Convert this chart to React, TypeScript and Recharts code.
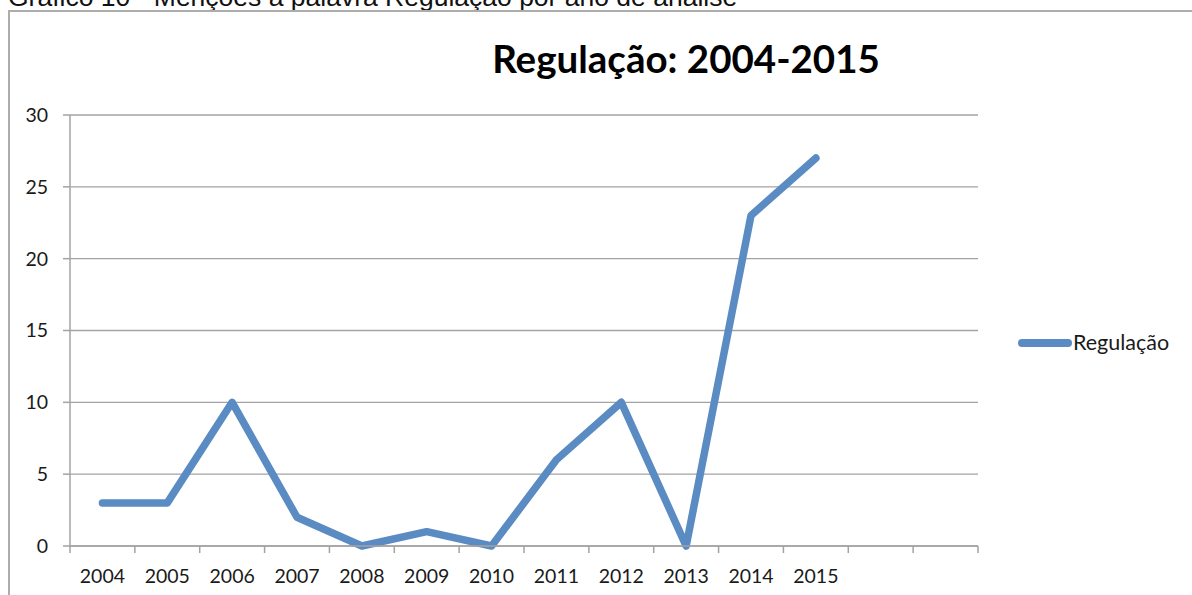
import React from 'react';
import { LineChart, Line, XAxis, YAxis, CartesianGrid, Legend } from 'recharts';

const years = ['2004', '2005', '2006', '2007', '2008', '2009', '2010', '2011', '2012', '2013', '2014', '2015', '', ''];
const regulacao = [3, 3, 10, 2, 0, 1, 0, 6, 10, 0, 23, 27];
const yTicks = [0, 5, 10, 15, 20, 25, 30];
const xTicks = [0, 1, 2, 3, 4, 5, 6, 7, 8, 9, 10, 11, 12, 13, 14];

const data = regulacao.map((v, i) => ({ x: i + 0.5, 'Regulação': v }));

const W = 1192;
const H = 595;
const PLOT_LEFT = 70;
const PLOT_RIGHT = 978;
const BAND = (PLOT_RIGHT - PLOT_LEFT) / years.length;
const LINE_COLOR = '#5a8bc2';
const AXIS_COLOR = '#a3a3a3';
const FONT = 'Lato, "Open Sans", sans-serif';

const XTick = (props: any) => {
  const { x, y, payload } = props;
  const label = years[payload.value] ?? '';
  if (!label) return null;
  return (
    <text x={x + BAND / 2} y={y + 28} textAnchor="middle" fontFamily={FONT} fontSize={19.5} fill="#1a1a1a">
      {label}
    </text>
  );
};

const LegendContent = () => (
  <svg width={180} height={30}>
    <line x1={14} y1={15} x2={60} y2={15} stroke={LINE_COLOR} strokeWidth={8} strokeLinecap="round" />
    <text x={65} y={22} fontFamily={FONT} fontSize={21.5} fill="#1a1a1a">Regulação</text>
  </svg>
);

export default function App() {
  return (
    <div style={{ position: 'absolute', left: 0, top: 0, width: W, height: H, overflow: 'hidden', background: '#fff' }}>
      <div
        style={{
          position: 'absolute', left: 8, top: -18, fontFamily: '"Liberation Sans", Arial, sans-serif',
          fontSize: 26.5, lineHeight: '30px', color: '#111', whiteSpace: 'nowrap',
        }}
      >
        Gráfico 10 - Menções à palavra Regulação por ano de análise
      </div>
      <div
        style={{
          position: 'absolute', left: 8, top: 10, width: W, height: H,
          borderTop: `2px solid #adadad`, borderLeft: `2px solid #adadad`, boxSizing: 'border-box',
        }}
      />
      <div
        style={{
          position: 'absolute', left: 386, top: 34, width: 600, textAlign: 'center', fontFamily: FONT,
          fontWeight: 700, fontSize: 38.5, lineHeight: '48px', color: '#000', whiteSpace: 'nowrap',
        }}
      >
        Regulação: 2004-2015
      </div>
      <div style={{ position: 'absolute', left: 0, top: 0 }}>
        <LineChart width={W} height={H} data={data} margin={{ top: 115, right: W - PLOT_RIGHT, bottom: 9, left: 10 }}>
          <CartesianGrid vertical={false} stroke={AXIS_COLOR} strokeWidth={1.3} />
          <XAxis
            type="number"
            dataKey="x"
            domain={[0, 14]}
            ticks={xTicks}
            interval={0}
            height={40}
            tickSize={7}
            tick={<XTick />}
            axisLine={{ stroke: AXIS_COLOR, strokeWidth: 1.5 }}
            tickLine={{ stroke: AXIS_COLOR, strokeWidth: 1.5 }}
          />
          <YAxis
            type="number"
            domain={[0, 30]}
            ticks={yTicks}
            interval={0}
            width={60}
            tickSize={7}
            tickMargin={15}
            tick={{ fontFamily: FONT, fontSize: 19.5, fill: '#1a1a1a' }}
            axisLine={{ stroke: AXIS_COLOR, strokeWidth: 1.5 }}
            tickLine={{ stroke: AXIS_COLOR, strokeWidth: 1.5 }}
          />
          <Legend
            layout="horizontal"
            verticalAlign="middle"
            align="center"
            content={<LegendContent />}
            wrapperStyle={{ left: 1008, top: 328, width: 180, height: 30 }}
          />
          <Line
            type="linear"
            dataKey="Regulação"
            stroke={LINE_COLOR}
            strokeWidth={7.5}
            strokeLinecap="round"
            strokeLinejoin="round"
            dot={false}
            activeDot={false}
            isAnimationActive={false}
          />
        </LineChart>
      </div>
    </div>
  );
}
